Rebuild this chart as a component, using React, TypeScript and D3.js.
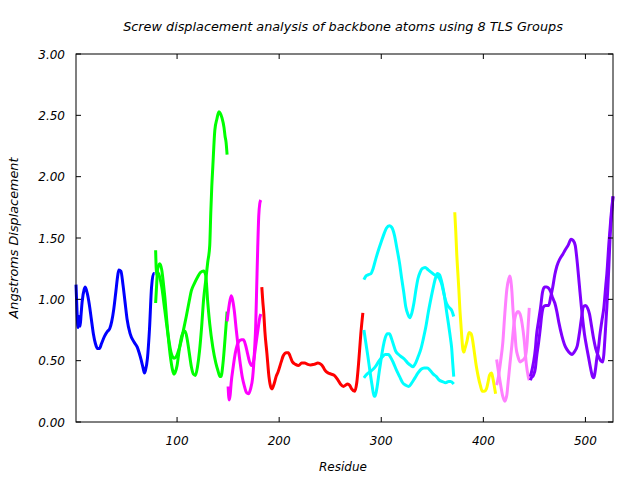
import React from "react";
import * as d3 from "d3";

const TITLE = "Screw displacement analysis of backbone atoms using 8 TLS Groups";
const X_LABEL = "Residue";
const Y_LABEL = "Angstroms Displacement";
const X_TICKS = [100, 200, 300, 400, 500];
const Y_TICKS = [0, 0.5, 1, 1.5, 2, 2.5, 3];

type P = [number, number];

const blueA: P[] = [[1,1.12],[2,0.90],[3,0.77],[4,0.86],[5,0.78],[6,0.88],[7,0.98],[9,1.08],[10,1.10],[12,1.05],[14,0.96],[16,0.84],[18,0.72],[20,0.64],[22,0.60],[24,0.60],[26,0.64],[29,0.70],[32,0.74],[34,0.76],[36,0.82],[38,0.92],[40,1.06],[42,1.20],[43,1.24],[45,1.23],[47,1.12],[49,0.98],[51,0.84],[54,0.72],[58,0.65],[61,0.61],[63,0.56],[65,0.50],[67,0.43],[68,0.40],[69,0.42],[71,0.52],[73,0.76],[75,1.10],[77,1.21],[78,1.21]];

const greenA: P[] = [[79,1.40],[80,1.20],[81,1.22],[83,1.18],[85,1.10],[88,0.91],[91,0.72],[94,0.57],[97,0.52],[99,0.53],[101,0.57],[104,0.66],[106,0.74],[109,0.86],[112,0.99],[114,1.07],[117,1.13],[120,1.18],[123,1.22],[126,1.23],[128,1.20],[130,0.98],[132,0.80],[135,0.61],[138,0.48],[140,0.42],[142,0.37],[143,0.37],[145,0.48],[147,0.68],[149,0.90]];
const greenB: P[] = [[79,0.97],[80,1.12],[81,1.25],[83,1.29],[85,1.24],[87,1.10],[88,1.02],[90,0.82],[92,0.64],[94,0.50],[96,0.41],[97,0.39],[98,0.40],[100,0.46],[102,0.58],[104,0.68],[106,0.73],[108,0.74],[110,0.67],[112,0.56],[114,0.45],[116,0.39],[118,0.38],[120,0.45],[122,0.58],[124,0.77],[126,1.00],[128,1.15],[130,1.30],[132,1.44],[133,1.70],[134,1.92],[135,2.08],[137,2.38],[139,2.47],[141,2.53],[142,2.52],[144,2.48],[146,2.40],[147,2.33],[148,2.28],[149,2.18]];

const magentaA: P[] = [[149,0.82],[151,0.95],[153,1.03],[154,1.01],[156,0.91],[158,0.75],[160,0.60],[162,0.47],[164,0.36],[166,0.29],[168,0.24],[170,0.23],[172,0.27],[174,0.36],[175,0.46],[176,0.60],[177,0.78],[178,1.10],[179,1.42],[180,1.68],[181,1.78],[182,1.81]];
const magentaB: P[] = [[150,0.29],[151,0.18],[152,0.22],[153,0.32],[155,0.45],[156,0.51],[158,0.60],[160,0.65],[163,0.67],[165,0.67],[167,0.63],[169,0.56],[171,0.49],[173,0.46],[175,0.50],[177,0.62],[179,0.74],[181,0.85],[182,0.88]];

const redA: P[] = [[183,1.10],[184,0.98],[185,0.88],[186,0.74],[188,0.56],[190,0.37],[192,0.28],[193,0.27],[195,0.31],[197,0.37],[199,0.41],[202,0.49],[204,0.54],[207,0.565],[209,0.565],[211,0.53],[213,0.49],[216,0.47],[219,0.46],[222,0.48],[225,0.48],[228,0.47],[231,0.465],[234,0.47],[238,0.48],[241,0.47],[243,0.45],[245,0.42],[248,0.40],[251,0.39],[254,0.38],[257,0.35],[260,0.31],[263,0.29],[265,0.30],[267,0.31],[269,0.30],[271,0.27],[274,0.25],[276,0.32],[278,0.50],[280,0.72],[282,0.89]];

const cyanA: P[] = [[283,1.16],[285,1.19],[287,1.20],[290,1.21],[292,1.25],[295,1.34],[298,1.42],[300,1.47],[303,1.54],[305,1.58],[308,1.60],[310,1.59],[313,1.52],[315,1.43],[318,1.29],[320,1.17],[322,1.06],[324,0.94],[326,0.88],[328,0.85],[330,0.89],[332,0.97],[334,1.08],[336,1.17],[338,1.22],[340,1.25],[343,1.26],[346,1.24],[349,1.22],[352,1.20],[355,1.19],[357,1.17],[359,1.13],[361,1.06],[363,0.99],[365,0.95],[367,0.93],[369,0.91],[371,0.86]];
const cyanB: P[] = [[283,0.75],[285,0.64],[287,0.53],[289,0.41],[291,0.30],[293,0.21],[294,0.21],[296,0.29],[298,0.41],[300,0.52],[302,0.62],[304,0.69],[306,0.72],[308,0.72],[310,0.68],[312,0.63],[314,0.58],[317,0.55],[320,0.53],[323,0.51],[326,0.48],[329,0.46],[331,0.45],[333,0.47],[336,0.53],[339,0.60],[341,0.67],[344,0.79],[346,0.89],[349,1.02],[351,1.10],[353,1.17],[355,1.21],[357,1.20],[359,1.15],[361,1.07],[362,1.02],[364,0.90],[366,0.79],[368,0.67],[369,0.60],[370,0.48],[371,0.37]];
const cyanC: P[] = [[283,0.36],[286,0.39],[289,0.41],[292,0.43],[295,0.46],[298,0.50],[301,0.53],[304,0.55],[307,0.55],[309,0.53],[312,0.48],[315,0.42],[318,0.37],[321,0.32],[324,0.30],[327,0.29],[330,0.32],[333,0.36],[336,0.40],[339,0.43],[342,0.44],[345,0.44],[348,0.42],[351,0.39],[354,0.37],[357,0.34],[360,0.33],[363,0.32],[366,0.33],[368,0.33],[371,0.31]];

const yellowA: P[] = [[372,1.71],[373,1.55],[374,1.36],[375,1.22],[376,1.08],[377,0.92],[378,0.80],[379,0.68],[380,0.59],[381,0.57],[382,0.60],[384,0.66],[386,0.73],[388,0.72],[389,0.69],[391,0.58],[393,0.46],[395,0.37],[397,0.30],[399,0.25],[401,0.25],[403,0.27],[405,0.34],[406,0.38],[408,0.40],[409,0.37],[411,0.28],[412,0.23]];

const pinkA: P[] = [[413,0.51],[415,0.40],[417,0.30],[419,0.21],[421,0.17],[423,0.22],[424,0.30],[426,0.47],[428,0.63],[430,0.80],[432,0.88],[434,0.90],[436,0.88],[438,0.80],[440,0.67],[442,0.48],[444,0.37],[445,0.34]];
const pinkB: P[] = [[413,0.30],[415,0.38],[417,0.50],[419,0.64],[421,0.88],[423,1.08],[425,1.17],[426,1.19],[427,1.15],[428,1.06],[429,0.92],[431,0.72],[432,0.61],[434,0.53],[436,0.49],[438,0.50],[441,0.53],[443,0.66],[444,0.80],[445,0.93]];

const purpleA: P[] = [[446,0.37],[447,0.40],[449,0.48],[451,0.60],[452,0.70],[454,0.82],[456,0.93],[458,1.06],[460,1.10],[462,1.10],[464,1.09],[466,1.06],[468,1.01],[470,0.97],[472,0.90],[474,0.81],[477,0.70],[480,0.62],[482,0.59],[485,0.56],[487,0.55],[489,0.57],[492,0.62],[494,0.72],[496,0.84],[498,0.94],[500,0.95],[502,0.93],[504,0.88],[506,0.78],[508,0.68],[510,0.60],[513,0.53],[515,0.50],[517,0.49],[518,0.55],[519,0.67],[521,0.94],[522,1.10],[523,1.28],[524,1.48],[525,1.62],[526,1.73],[527,1.84]];
const purpleB: P[] = [[446,0.34],[447,0.36],[449,0.38],[451,0.44],[452,0.52],[454,0.64],[456,0.78],[457,0.86],[459,0.94],[461,0.95],[464,0.95],[466,1.02],[468,1.10],[470,1.20],[472,1.27],[475,1.33],[478,1.37],[480,1.40],[483,1.44],[486,1.49],[488,1.48],[490,1.44],[492,1.30],[494,1.12],[496,0.94],[497,0.86],[499,0.72],[501,0.62],[503,0.53],[505,0.44],[507,0.37],[508,0.36],[510,0.44],[511,0.51],[513,0.62],[514,0.70],[516,0.82],[518,0.93],[520,1.12],[521,1.21],[523,1.46],[525,1.67],[527,1.84]];

const GROUP_COLORS = ["#0000ff", "#00ff00", "#ff00ff", "#ff0000", "#00ffff", "#ffff00", "#ff80ff", "#8000ff"];
const GROUPS: P[][][] = [
  [blueA],
  [greenA, greenB],
  [magentaA, magentaB],
  [redA],
  [cyanA, cyanB, cyanC],
  [yellowA],
  [pinkA, pinkB],
  [purpleA, purpleB],
];

export default function App() {
  const W = 640, H = 480;
  const left = 76, right = 613, top = 54, bottom = 422;
  const x = d3.scaleLinear().domain([1, 527]).range([left, right]);
  const y = d3.scaleLinear().domain([0, 3]).range([bottom, top]);
  const line = d3.line<P>().x(d => x(d[0])).y(d => y(d[1])).curve(d3.curveMonotoneX);
  const font = "'DejaVu Sans', sans-serif";
  const tick = 5;
  return (
    <svg width={W} height={H} style={{ position: "absolute", left: 0, top: 0, background: "#fff" }}>
      <rect x={0} y={0} width={W} height={H} fill="#fff" />
      <g fill="none" strokeWidth={3} strokeLinejoin="round" strokeLinecap="butt">
        {GROUPS.map((g, gi) =>
          g.map((s, si) => <path key={gi + "-" + si} d={line(s) || ""} stroke={GROUP_COLORS[gi]} />)
        )}
      </g>
      <rect x={left} y={top} width={right - left} height={bottom - top} fill="none" stroke="#000" strokeWidth={1} />
      {X_TICKS.map(t => (
        <g key={"x" + t}>
          <line x1={x(t)} x2={x(t)} y1={bottom} y2={bottom - tick} stroke="#000" />
          <line x1={x(t)} x2={x(t)} y1={top} y2={top + tick} stroke="#000" />
          <text x={x(t)} y={445} textAnchor="middle" fontFamily={font} fontStyle="italic" fontSize={12} fill="#000">{t}</text>
        </g>
      ))}
      {Y_TICKS.map(t => (
        <g key={"y" + t}>
          <line x1={left} x2={left + tick} y1={y(t)} y2={y(t)} stroke="#000" />
          <line x1={right} x2={right - tick} y1={y(t)} y2={y(t)} stroke="#000" />
          <text x={65} y={y(t) + 4.5} textAnchor="end" fontFamily={font} fontStyle="italic" fontSize={12} fill="#000">{d3.format(".2f")(t)}</text>
        </g>
      ))}
      <text x={343} y={31} textAnchor="middle" fontFamily={font} fontStyle="italic" fontSize={12.8} fill="#000">{TITLE}</text>
      <text x={343} y={471} textAnchor="middle" fontFamily={font} fontStyle="italic" fontSize={12} fill="#000">{X_LABEL}</text>
      <text transform={`translate(18,238) rotate(-90)`} textAnchor="middle" fontFamily={font} fontStyle="italic" fontSize={12.8} fill="#000">{Y_LABEL}</text>
    </svg>
  );
}
